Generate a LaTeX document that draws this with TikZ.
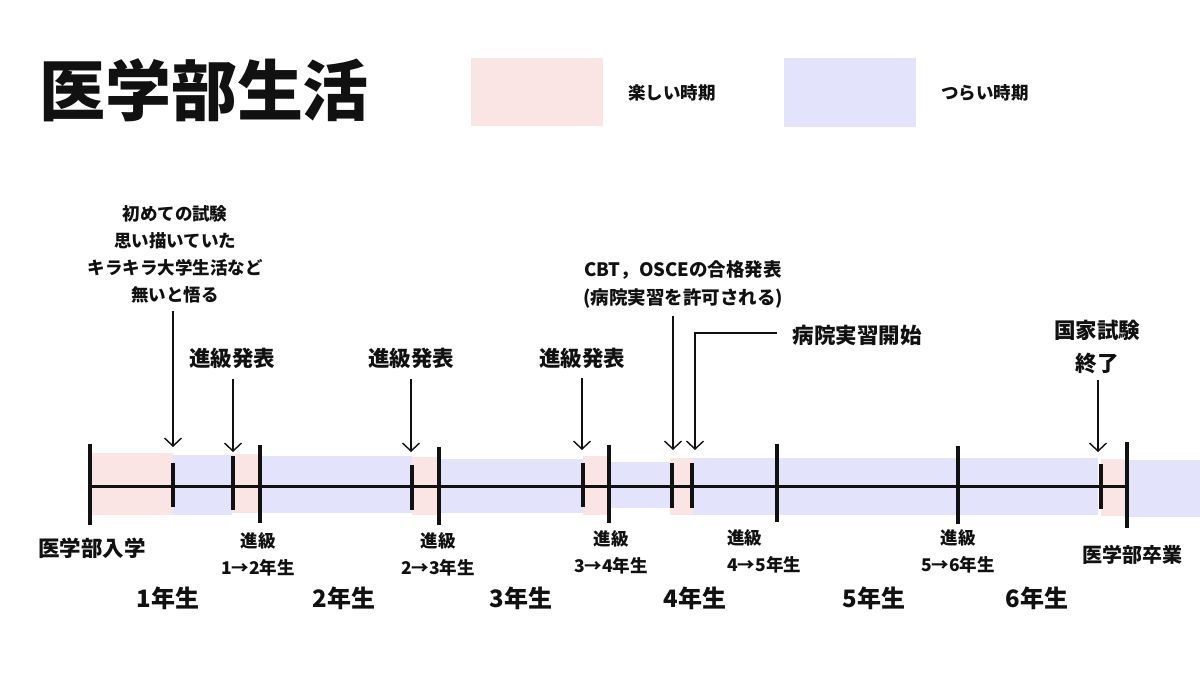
\documentclass[tikz,border=0pt]{standalone}
\usepackage{fontspec}
\setmainfont{Noto Sans CJK JP}
\usetikzlibrary{arrows.meta}
\definecolor{pinkbg}{RGB}{250,228,228}
\definecolor{lavbg}{RGB}{227,227,251}
\definecolor{ink}{RGB}{17,17,17}
\begin{document}
\begin{tikzpicture}[x=1pt,y=-1pt,
  txt/.style={inner sep=0pt, align=center, text=ink},
  ftitle/.style={font=\bfseries\fontsize{66}{70}\selectfont},
  fnote/.style={font=\bfseries\fontsize{17.5}{27}\selectfont},
  fcbt/.style={font=\bfseries\fontsize{18.5}{28}\selectfont},
  fmid/.style={font=\bfseries\fontsize{21.5}{33}\selectfont},
  fsmall/.style={font=\bfseries\fontsize{17.5}{27}\selectfont},
  fyear/.style={font=\bfseries\fontsize{24}{28}\selectfont},
  fend/.style={font=\bfseries\fontsize{21.5}{26}\selectfont},
  good/.style={fill=pinkbg, draw=none},
  bad/.style={fill=lavbg, draw=none},
  axis/.style={line width=3pt, draw=ink},
  tick/.style={line width=3.5pt, draw=ink},
  arr/.style={line width=1.4pt, draw=ink, -{Straight Barb[length=8pt,width=17pt]}}
]
\useasboundingbox (0,0) rectangle (1200,675);
\fill[white] (0,0) rectangle (1200,675);

% title and legend
\node[txt, ftitle] (title) at (204,90) {医学部生活};
\path[good] (471,58) rectangle (603,126);
\node[txt, fnote] (lgood) at (672,93) {楽しい時期};
\path[bad] (784,58) rectangle (916,127);
\node[txt, fnote] (lbad) at (985,93) {つらい時期};

% periods
\path[good] (90,453) rectangle (173,515);
\path[bad] (173,455) rectangle (232,515);
\path[good] (232,454) rectangle (260,513);
\path[bad] (260,456) rectangle (412,513);
\path[good] (412,457) rectangle (440,515);
\path[bad] (440,459) rectangle (583,513);
\path[good] (583,456) rectangle (608,515);
\path[bad] (608,462) rectangle (670,508);
\path[good] (670,458) rectangle (693,515);
\path[bad] (693,458) rectangle (1098,515);
\path[good] (1101,459) rectangle (1124,516);
\path[bad] (1124,460) rectangle (1200,517);

% axis and ticks
\coordinate (start) at (90,486);
\coordinate (end) at (1127,486);
\draw[axis] (start) -- (end);
\draw[tick] (90,444) -- (90,525);
\draw[tick] (173,463) -- (173,507);
\draw[tick] (233,456) -- (233,510);
\draw[tick] (260,445) -- (260,523);
\draw[tick] (412,465) -- (412,510);
\draw[tick] (439,447) -- (439,525);
\draw[tick] (583,463) -- (583,507);
\draw[tick] (609,445) -- (609,523);
\draw[tick] (672,463) -- (672,508);
\draw[tick] (692,463) -- (692,508);
\draw[tick] (777,444) -- (777,522);
\draw[tick] (958,446) -- (958,524);
\draw[tick] (1101,464) -- (1101,509);
\draw[tick] (1127,442) -- (1127,528);

% upper notes
\node[txt, fnote] (n1) at (175,254) {初めての試験\\思い描いていた\\キラキラ大学生活など\\無いと悟る};
\node[txt, fmid] (p1) at (232,358) {進級発表};
\node[txt, fmid] (p2) at (411,358) {進級発表};
\node[txt, fmid] (p3) at (582,358) {進級発表};
\node[txt, fcbt] (cbt) at (683,284) {CBT，OSCEの合格発表\\(病院実習を許可される)};
\node[txt, fmid] (hosp) at (857,335) {病院実習開始};
\node[txt, fmid] (exam) at (1097,347) {国家試験\\終了};

% arrow targets
\coordinate (a1) at (173,447);
\coordinate (a2) at (233,452);
\coordinate (a3) at (411,452);
\coordinate (a4) at (582,450);
\coordinate (a5) at (673,450);
\coordinate (a6) at (695,450);
\coordinate (a7) at (1098,452);
\coordinate (h1) at (777,333);
\coordinate (h2) at (695,333);

\draw[arr] (173,311) -- (a1);
\draw[arr] (233,379) -- (a2);
\draw[arr] (411,379) -- (a3);
\draw[arr] (582,378) -- (a4);
\draw[arr] (673,316) -- (a5);
\draw[arr] (h1) -- (h2) -- (a6);
\draw[arr] (1098,380) -- (a7);

% lower labels
\node[txt, fend] (enter) at (92,548) {医学部入学};
\node[txt, fsmall] (s12) at (258,554) {進級\\1→2年生};
\node[txt, fsmall] (s23) at (438,554) {進級\\2→3年生};
\node[txt, fsmall] (s34) at (611,552) {進級\\3→4年生};
\node[txt, fsmall, align=left, anchor=west] (s45) at (727,551) {進級\\4→5年生};
\node[txt, fsmall] (s56) at (958,551) {進級\\5→6年生};
\node[txt, font=\bfseries\fontsize{20}{24}\selectfont] (grad) at (1132,555) {医学部卒業};

\node[txt, fyear] (y1) at (168,598) {1年生};
\node[txt, fyear] (y2) at (344,598) {2年生};
\node[txt, fyear] (y3) at (521,598) {3年生};
\node[txt, fyear] (y4) at (695,598) {4年生};
\node[txt, fyear] (y5) at (874,598) {5年生};
\node[txt, fyear] (y6) at (1037,598) {6年生};
\end{tikzpicture}
\end{document}
